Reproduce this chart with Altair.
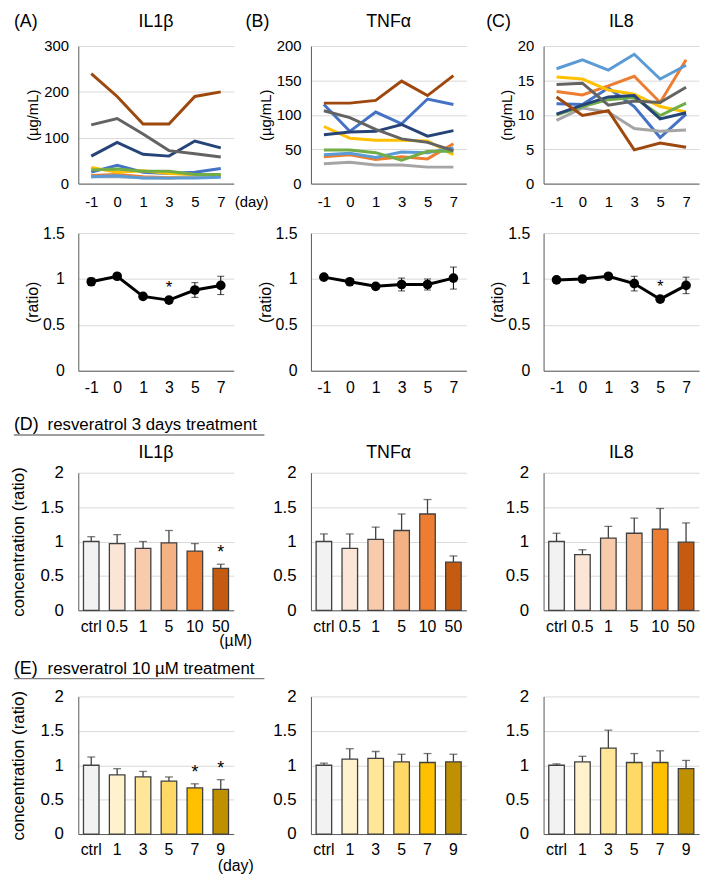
import altair as alt
import pandas as pd

# ---------------- data ----------------
DAYS = ["-1", "0", "1", "3", "5", "7"]
DONORS = ["donor 1", "donor 2", "donor 3", "donor 4", "donor 5",
          "donor 6", "donor 7", "donor 8", "donor 9"]
DONOR_COLORS = ["#4472C4", "#ED7D31", "#A5A5A5", "#FFC000", "#5B9BD5",
                "#70AD47", "#264478", "#9E480E", "#636363"]

# (A) IL1β, µg/mL, one list per donor
IL1B_CONC = [
    [25, 40, 25, 22, 25, 33],
    [18, 20, 15, 13, 15, 17],
    [15, 15, 13, 12, 15, 16],
    [35, 25, 28, 22, 20, 20],
    [15, 17, 12, 12, 12, 14],
    [30, 32, 27, 27, 20, 20],
    [60, 90, 64, 60, 93, 78],
    [240, 190, 130, 130, 190, 200],
    [128, 142, 108, 72, 65, 58],
]
# (B) TNFα, µg/mL
TNF_CONC = [
    [115, 76, 104, 87, 123, 115],
    [39, 42, 35, 39, 36, 58],
    [29, 31, 27, 27, 24, 24],
    [83, 66, 63, 63, 62, 42],
    [42, 44, 38, 46, 45, 52],
    [49, 49, 45, 34, 47, 47],
    [71, 75, 76, 86, 69, 77],
    [117, 117, 121, 149, 128, 157],
    [106, 96, 79, 65, 60, 48],
]
# (C) IL8, ng/mL
IL8_CONC = [
    [11.6, 11.5, 13.9, 11.2, 6.7, 10.1],
    [13.4, 12.9, 14.2, 15.6, 11.8, 18.0],
    [9.2, 11.0, 10.4, 8.0, 7.6, 7.8],
    [15.5, 15.2, 13.6, 13.0, 11.2, 10.4],
    [16.7, 18.0, 16.5, 18.8, 15.2, 17.2],
    [10.0, 11.2, 12.2, 12.5, 9.9, 11.7],
    [10.1, 11.4, 12.6, 12.8, 9.4, 10.3],
    [12.6, 9.9, 10.6, 4.9, 5.9, 5.3],
    [14.4, 14.6, 11.4, 12.0, 11.8, 14.0],
]

# ratios (mean ± error)
IL1B_RATIO = [0.97, 1.03, 0.81, 0.77, 0.88, 0.93]
IL1B_RATIO_ERR = [0.04, 0.03, 0.02, 0.03, 0.08, 0.10]
IL1B_RATIO_SIG = ["", "", "", "*", "", ""]
TNF_RATIO = [1.02, 0.97, 0.92, 0.94, 0.94, 1.01]
TNF_RATIO_ERR = [0.02, 0.02, 0.03, 0.07, 0.06, 0.12]
TNF_RATIO_SIG = ["", "", "", "", "", ""]
IL8_RATIO = [0.99, 1.00, 1.03, 0.95, 0.78, 0.93]
IL8_RATIO_ERR = [0.02, 0.02, 0.03, 0.08, 0.03, 0.09]
IL8_RATIO_SIG = ["", "", "", "", "*", ""]

# (D) dose response, 3 days
DOSES = ["ctrl", "0.5", "1", "5", "10", "50"]
DOSE_COLORS = ["#F2F2F2", "#FBE5D6", "#F8CBAD", "#F4B183", "#ED7D31", "#C55A11"]
D_IL1B = [1.00, 0.97, 0.90, 0.98, 0.86, 0.61]
D_IL1B_ERR = [0.07, 0.13, 0.10, 0.18, 0.11, 0.06]
D_IL1B_SIG = ["", "", "", "", "", "*"]
D_TNF = [1.00, 0.90, 1.03, 1.16, 1.40, 0.70]
D_TNF_ERR = [0.11, 0.21, 0.18, 0.24, 0.21, 0.09]
D_TNF_SIG = ["", "", "", "", "", ""]
D_IL8 = [1.00, 0.81, 1.05, 1.12, 1.18, 0.99]
D_IL8_ERR = [0.12, 0.07, 0.17, 0.22, 0.30, 0.28]
D_IL8_SIG = ["", "", "", "", "", ""]

# (E) time course, 10 µM
TDAYS = ["ctrl", "1", "3", "5", "7", "9"]
TDAY_COLORS = ["#F2F2F2", "#FFF2CC", "#FFE699", "#FFD966", "#FFC000", "#BF9000"]
E_IL1B = [1.00, 0.86, 0.83, 0.77, 0.67, 0.65]
E_IL1B_ERR = [0.12, 0.09, 0.08, 0.06, 0.06, 0.14]
E_IL1B_SIG = ["", "", "", "", "*", "*"]
E_TNF = [1.00, 1.09, 1.10, 1.05, 1.04, 1.05]
E_TNF_ERR = [0.03, 0.15, 0.10, 0.11, 0.13, 0.11]
E_TNF_SIG = ["", "", "", "", "", ""]
E_IL8 = [1.00, 1.05, 1.25, 1.04, 1.04, 0.95]
E_IL8_ERR = [0.02, 0.08, 0.26, 0.13, 0.17, 0.12]
E_IL8_SIG = ["", "", "", "", "", ""]

# ---------------- style ----------------
FONT = "Liberation Sans"
GRID = "#D9D9D9"
DOMAIN = "#595959"
EDGE = "#404040"
W = 157
H = 139


def label(text, x, y, size, align="left"):
    return alt.Chart(pd.DataFrame({"t": [text]})).mark_text(
        align=align, baseline="middle", font=FONT, fontSize=size, color="black"
    ).encode(x=alt.value(x), y=alt.value(y), text="t:N")


def underline(x1, x2, y):
    return alt.Chart(pd.DataFrame({"t": [0]})).mark_rule(
        color="#7F7F7F", strokeWidth=1.5
    ).encode(x=alt.value(x1), x2=alt.value(x2), y=alt.value(y))


def yaxis(values, title, size, label_pad, title_pad):
    kw = dict(values=values, format="~f", grid=True, gridColor=GRID, gridWidth=1,
              domainColor=DOMAIN, domainWidth=1, ticks=False, labelFont=FONT,
              labelFontSize=size, labelColor="black", labelPadding=label_pad)
    if title:
        kw.update(title=title, titleFont=FONT, titleFontSize=size,
                  titleFontWeight="normal", titleColor="black", titlePadding=title_pad)
    else:
        kw.update(title=None)
    return alt.Axis(**kw)


def xaxis(size, pad):
    return alt.Axis(title=None, labelAngle=0, grid=False, ticks=False,
                    domainColor=DOMAIN, domainWidth=1, labelFont=FONT,
                    labelFontSize=size, labelColor="black", labelPadding=pad)


def conc_panel(series, ymax, ystep, ytitle, title, letter, letter_x, day_unit):
    rows = []
    for donor, vals in zip(DONORS, series):
        for d, v in zip(DAYS, vals):
            rows.append({"donor": donor, "day": d, "value": v})
    df = pd.DataFrame(rows)
    lines = alt.Chart(df).mark_line(strokeWidth=3).encode(
        x=alt.X("day:O", sort=DAYS, scale=alt.Scale(type="point", padding=0.5),
                axis=xaxis(15, 11)),
        y=alt.Y("value:Q", scale=alt.Scale(domain=[0, ymax], nice=False),
                axis=yaxis(list(range(0, ymax + 1, ystep)), ytitle, 15, 10, 3)),
        color=alt.Color("donor:N", scale=alt.Scale(domain=DONORS, range=DONOR_COLORS),
                        legend=None),
    )
    layers = [lines, label(title, W / 2, -24, 18, "center"),
              label(letter, letter_x, -24, 18)]
    if day_unit:
        layers.append(label("(day)", W + 1, H + 19, 15))
    return alt.layer(*layers).properties(width=W, height=H)


def ratio_panel(mean, err, sig):
    df = pd.DataFrame({
        "day": DAYS, "mean": mean,
        "lo": [m - e for m, e in zip(mean, err)],
        "hi": [m + e for m, e in zip(mean, err)],
        "sig": sig,
    })
    x = alt.X("day:O", sort=DAYS, scale=alt.Scale(type="point", padding=0.5),
              axis=xaxis(16, 9))
    ys = alt.Scale(domain=[0, 1.5], nice=False)
    ax = yaxis([0, 0.5, 1, 1.5], "(ratio)", 16, 14, 2)
    base = alt.Chart(df)
    rule = base.mark_rule(color="black", strokeWidth=1).encode(
        x=x, y=alt.Y("lo:Q", scale=ys, axis=ax), y2="hi:Q")
    cap_hi = base.mark_tick(color="black", thickness=1, size=7).encode(
        x=x, y=alt.Y("hi:Q", scale=ys, axis=ax))
    cap_lo = base.mark_tick(color="black", thickness=1, size=7).encode(
        x=x, y=alt.Y("lo:Q", scale=ys, axis=ax))
    line = base.mark_line(color="black", strokeWidth=3).encode(
        x=x, y=alt.Y("mean:Q", scale=ys, axis=ax))
    pts = base.mark_point(filled=True, shape="circle", size=95, color="black",
                          opacity=1).encode(x=x, y=alt.Y("mean:Q", scale=ys, axis=ax))
    stars = base.mark_text(font=FONT, fontSize=17, dy=-9, baseline="middle").encode(
        x=x, y=alt.Y("hi:Q", scale=ys, axis=ax), text="sig:N")
    return alt.layer(rule, cap_hi, cap_lo, line, pts, stars).properties(width=W, height=H)


def bar_panel(cats, colors, mean, err, sig, ytitle, extras):
    df = pd.DataFrame({
        "cat": cats, "mean": mean,
        "hi": [m + e for m, e in zip(mean, err)],
        "sig": sig,
    })
    x = alt.X("cat:N", sort=cats, scale=alt.Scale(paddingInner=0.4, paddingOuter=0.2),
              axis=xaxis(16, 8))
    ys = alt.Scale(domain=[0, 2], nice=False)
    ax = yaxis([0, 0.5, 1, 1.5, 2], ytitle, 17, 15, 13)
    base = alt.Chart(df)
    rule = base.mark_rule(color=EDGE, strokeWidth=1.3).encode(
        x=x, y=alt.Y("mean:Q", scale=ys, axis=ax), y2="hi:Q")
    cap = base.mark_tick(color=EDGE, thickness=1.3, size=8).encode(
        x=x, y=alt.Y("hi:Q", scale=ys, axis=ax))
    bars = base.mark_bar(stroke=EDGE, strokeWidth=1.3).encode(
        x=x, y=alt.Y("mean:Q", scale=ys, axis=ax),
        color=alt.Color("cat:N", scale=alt.Scale(domain=cats, range=colors), legend=None))
    stars = base.mark_text(font=FONT, fontSize=18, dy=-11, baseline="middle").encode(
        x=x, y=alt.Y("hi:Q", scale=ys, axis=ax), text="sig:N")
    return alt.layer(rule, cap, bars, stars, *extras).properties(width=W, height=H)


def spacer(h):
    return alt.Chart(pd.DataFrame({"t": [""]})).mark_text().encode(
        x=alt.value(0), y=alt.value(0), text="t:N").properties(width=W, height=h)


# ---------------- panels ----------------
a1 = conc_panel(IL1B_CONC, 300, 100, "(µg/mL)", "IL1β", "(A)", -65, True)
b1 = conc_panel(TNF_CONC, 200, 50, "(µg/mL)", "TNFα", "(B)", -66, False)
c1 = conc_panel(IL8_CONC, 20, 5, "(ng/mL)", "IL8", "(C)", -58, False)

a2 = ratio_panel(IL1B_RATIO, IL1B_RATIO_ERR, IL1B_RATIO_SIG)
b2 = ratio_panel(TNF_RATIO, TNF_RATIO_ERR, TNF_RATIO_SIG)
c2 = ratio_panel(IL8_RATIO, IL8_RATIO_ERR, IL8_RATIO_SIG)

d_head = [label("(D)", -65, -48, 18), label("resveratrol 3 days treatment", -31, -48, 17),
          underline(-65, 188, -38)]
ad = bar_panel(DOSES, DOSE_COLORS, D_IL1B, D_IL1B_ERR, D_IL1B_SIG, "concentration (ratio)",
               d_head + [label("IL1β", W / 2, -20, 18, "center"),
                         label("(µM)", W + 2, H + 31, 16, "center")])
bd = bar_panel(DOSES, DOSE_COLORS, D_TNF, D_TNF_ERR, D_TNF_SIG, None,
               [label("TNFα", W / 2, -20, 18, "center")])
cd = bar_panel(DOSES, DOSE_COLORS, D_IL8, D_IL8_ERR, D_IL8_SIG, None,
               [label("IL8", W / 2, -20, 18, "center")])

e_head = [label("(E)", -65, -28, 18), label("resveratrol 10 µM treatment", -31, -28, 17),
          underline(-65, 188, -18)]
ae = bar_panel(TDAYS, TDAY_COLORS, E_IL1B, E_IL1B_ERR, E_IL1B_SIG, "concentration (ratio)",
               e_head + [label("(day)", W + 2, H + 32, 16, "center")])
be = bar_panel(TDAYS, TDAY_COLORS, E_TNF, E_TNF_ERR, E_TNF_SIG, None, [])
ce = bar_panel(TDAYS, TDAY_COLORS, E_IL8, E_IL8_ERR, E_IL8_SIG, None, [])

cells = [a1, b1, c1,
         spacer(2), spacer(2), spacer(2),
         a2, b2, c2,
         spacer(55), spacer(55), spacer(55),
         ad, bd, cd,
         spacer(39), spacer(39), spacer(39),
         ae, be, ce]

chart = alt.concat(*cells, columns=3, spacing=alt.RowColnumber(row=24, column=78),
                   bounds="flush").resolve_scale(color="independent").properties(
    padding=0).configure_view(stroke="transparent")

chart.save("out.html", embed_options={"renderer": "svg", "actions": False})
